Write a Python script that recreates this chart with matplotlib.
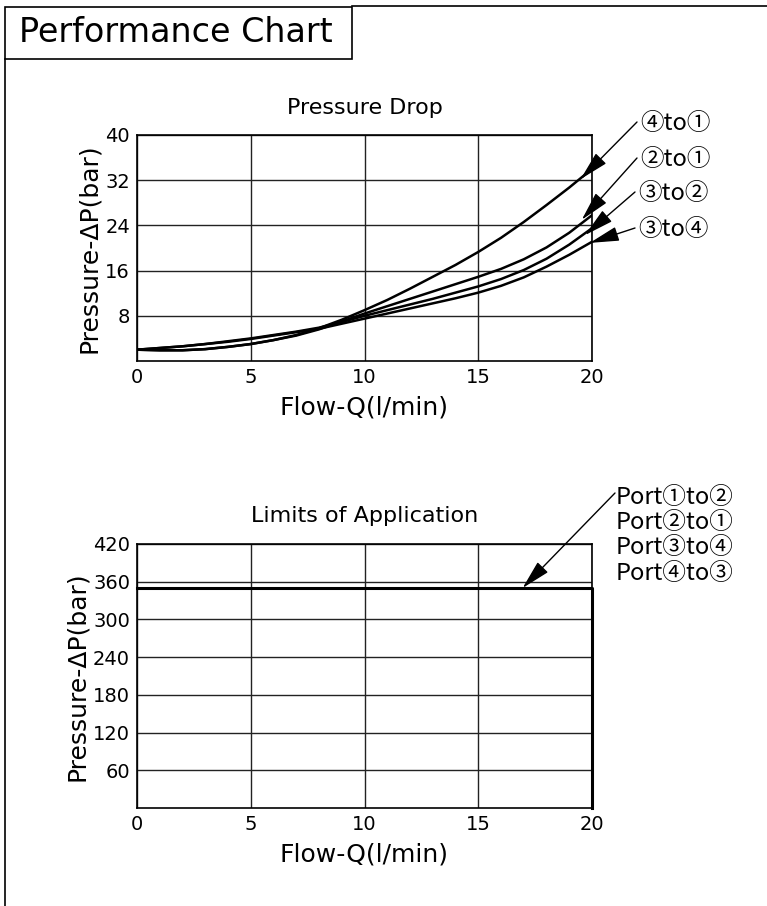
import matplotlib
matplotlib.use('Agg')
import matplotlib.pyplot as plt
from matplotlib.patches import Rectangle
from matplotlib.lines import Line2D

plt.rcParams['font.family'] = ['DejaVu Sans', 'Noto Sans CJK JP']

# pressure drop curves
flow = [0, 1, 2, 3, 4, 5, 6, 7, 8, 9, 10, 11, 12, 13, 14, 15, 16, 17, 18, 19, 20]
dp_4to1 = [2.0, 1.9, 1.9, 2.1, 2.5, 3.0, 3.7, 4.6, 5.8, 7.3, 9.0, 10.8, 12.8, 14.9, 17.0, 19.3, 21.8, 24.6, 27.6, 30.7, 34.0]
dp_2to1 = [2.0, 1.9, 1.9, 2.1, 2.5, 3.0, 3.7, 4.5, 5.6, 7.0, 8.4, 9.7, 11.0, 12.3, 13.6, 14.9, 16.3, 18.0, 20.1, 22.7, 25.8]
dp_3to2 = [2.0, 2.3, 2.6, 3.0, 3.5, 4.0, 4.6, 5.2, 5.9, 6.9, 8.0, 9.0, 10.0, 11.0, 12.1, 13.2, 14.5, 16.1, 18.1, 20.6, 23.5]
dp_3to4 = [2.0, 2.3, 2.6, 3.0, 3.4, 3.9, 4.5, 5.1, 5.7, 6.6, 7.5, 8.4, 9.3, 10.2, 11.1, 12.1, 13.3, 14.8, 16.7, 18.8, 21.1]
curve_labels = ['④to①', '②to①', '③to②', '③to④']
curves = [dp_4to1, dp_2to1, dp_3to2, dp_3to4]
# where the arrows hit the curves
tip_x = [19.5, 19.55, 19.7, 19.9]
tip_y = [32.2, 25.0, 22.3, 20.9]

# limits of application
lim_flow = [0, 20, 20]
lim_p = [350, 350, 0]
port_labels = ['Port①to②', 'Port②to①', 'Port③to④', 'Port④to③']

W, H = 767, 906
fig = plt.figure(figsize=(W / 100, H / 100), dpi=100)

def fx(px):
    return px / W

def fy(py):
    return 1 - py / H

# frame and title box
fig.add_artist(Rectangle((fx(5), fy(59)), fx(352) - fx(5), fy(7) - fy(59),
                         transform=fig.transFigure, fill=False, lw=1.2, ec='black'))
fig.add_artist(Line2D([fx(352), 1], [fy(6), fy(6)], transform=fig.transFigure, lw=1.2, color='black'))
fig.add_artist(Line2D([fx(5), fx(5)], [fy(59), 0], transform=fig.transFigure, lw=1.2, color='black'))
fig.text(fx(19), fy(33), 'Performance Chart', fontsize=24, va='center', ha='left')

arrow_props = dict(arrowstyle='-|>,head_length=1.3,head_width=0.32',
                   mutation_scale=14, color='black', lw=1.0, shrinkA=0, shrinkB=0)
label_font = ['Noto Sans CJK JP', 'DejaVu Sans']

def style(ax, yticks, ylim):
    ax.set_xlim(0, 20)
    ax.set_ylim(*ylim)
    ax.set_xticks([0, 5, 10, 15, 20])
    ax.set_yticks(yticks)
    ax.tick_params(length=0, labelsize=14, pad=5)
    ax.grid(True, color='#222222', lw=1.0)
    for s in ax.spines.values():
        s.set_linewidth(1.2)
    ax.set_xlabel('Flow-Q(l/min)', fontsize=18, labelpad=6)
    ax.set_ylabel('Pressure-ΔP(bar)', fontsize=18, labelpad=3)

ax1 = fig.add_axes([fx(137), fy(361), fx(592) - fx(137), fy(135) - fy(361)])
style(ax1, [8, 16, 24, 32, 40], (0, 40))
ax1.set_title('Pressure Drop', fontsize=16, pad=15)
for c in curves:
    ax1.plot(flow, c, color='black', lw=1.8)

tails = [(637, 122), (637, 158), (635, 192), (635, 228)]
for lab, tx, ty, (px, py) in zip(curve_labels, tip_x, tip_y, tails):
    ax1.annotate('', xy=(tx, ty), xytext=(fx(px), fy(py)), textcoords='figure fraction',
                 arrowprops=arrow_props, annotation_clip=False)
    fig.text(fx(px + 3), fy(py + 2), lab, fontsize=17, va='center', ha='left', family=label_font)

ax2 = fig.add_axes([fx(137), fy(808), fx(592) - fx(137), fy(544) - fy(808)])
style(ax2, [60, 120, 180, 240, 300, 360, 420], (0, 420))
ax2.set_title('Limits of Application', fontsize=16, pad=16)
ax2.plot(lim_flow, lim_p, color='black', lw=2.2, clip_on=False)
ax2.annotate('', xy=(16.95, 350), xytext=(fx(615), fy(493)), textcoords='figure fraction',
             arrowprops=arrow_props, annotation_clip=False)
for i, lab in enumerate(port_labels):
    fig.text(fx(616), fy(497 + 25.5 * i), lab, fontsize=17, va='center', ha='left', family=label_font)

fig.savefig('out.png', dpi=100)
